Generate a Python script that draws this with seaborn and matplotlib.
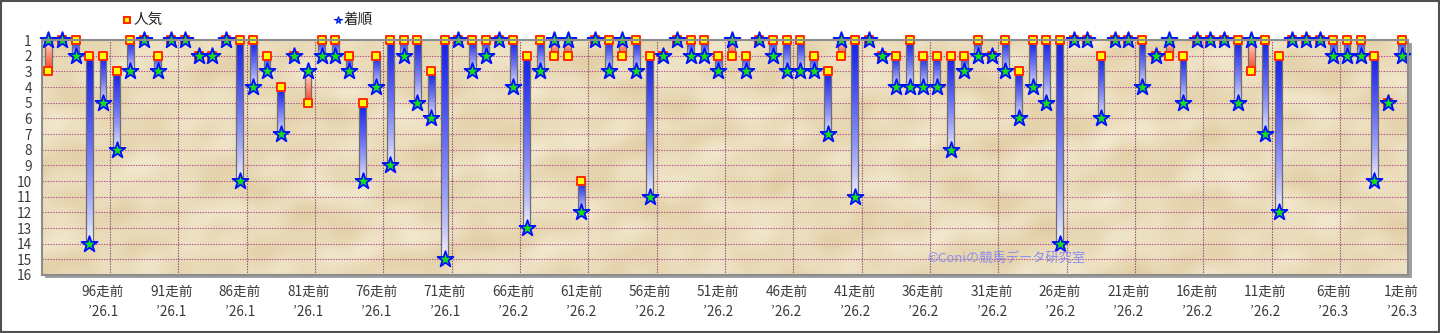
import numpy as np
import pandas as pd
import matplotlib
matplotlib.use("Agg")
import matplotlib.pyplot as plt
import seaborn as sns
from matplotlib.patches import Rectangle
from matplotlib.lines import Line2D

# ---------------- data (oldest race first: 100走前 ... 1走前) ----------------
races_ago = list(range(100, 0, -1))
ninki = [3, 1, 1, 2, 2, 3, 1, 1, 2, 1, 1, 2, 2, 1, 1,
         1, 2, 4, 2, 5, 1, 1, 2, 5, 2, 1, 1, 1, 3, 1, 1, 1, 1,
         1, 1, 2, 1, 2, 2, 10, 1, 1, 2, 1, 2, 2, 1, 1, 1, 2,
         2, 2, 1, 1, 1, 1, 2, 3, 2, 1, 1, 2, 2, 1, 2, 2, 2, 2,
         1, 2, 1, 3, 1, 1, 1, 1, 1, 2, 1, 1, 1, 2, 2, 2, 1, 1,
         1, 1, 3, 1, 2, 1, 1, 1, 1, 1, 1, 2, 5, 1]
chakujun = [1, 1, 2, 14, 5, 8, 3, 1, 3, 1, 1, 2, 2, 1, 10,
            4, 3, 7, 2, 3, 2, 2, 3, 10, 4, 9, 2, 5, 6, 15, 1, 3, 2,
            1, 4, 13, 3, 1, 1, 12, 1, 3, 1, 3, 11, 2, 1, 2, 2, 3,
            1, 3, 1, 2, 3, 3, 3, 7, 1, 11, 1, 2, 4, 4, 4, 4, 8, 3,
            2, 2, 3, 6, 4, 5, 14, 1, 1, 6, 1, 1, 4, 2, 1, 5, 1, 1,
            1, 5, 1, 7, 12, 1, 1, 1, 2, 2, 2, 10, 5, 2]
tick_races = [96, 91, 86, 81, 76, 71, 66, 61, 56, 51, 46, 41, 36, 31, 26, 21, 16, 11, 6, 1]
tick_dates = ["26.1"] * 6 + ["26.2"] * 12 + ["26.3"] * 2
y_ticks = list(range(1, 17))

df = pd.DataFrame({"pos": np.arange(len(races_ago)), "race": races_ago,
                   "ninki": ninki, "chaku": chakujun})

# ---------------- style ----------------
sns.set_theme(style="white")
plt.rcParams["font.family"] = ["Noto Sans CJK JP", "DejaVu Sans"]

W, H = 1440, 333
fig = plt.figure(figsize=(W / 100, H / 100), dpi=100)
fig.patch.set_facecolor("white")
L, R, T, B = 41.5, 1408.5, 40, 275
ax = fig.add_axes([L / W, 1 - B / H, (R - L) / W, (B - T) / H])
ax.set_zorder(2)

# shadow behind the plot area (separate background axes)
shadow_ax = fig.add_axes([(L + 3) / W, 1 - (B + 3) / H, (R - L) / W, (B - T) / H])
shadow_ax.set_zorder(1)
shadow_ax.set_facecolor("#a0a0a0")
shadow_ax.set_xticks([])
shadow_ax.set_yticks([])
for s in shadow_ax.spines.values():
    s.set_visible(False)

# outer frame
fig.patches.append(Rectangle((0.0008, 0.002), 0.9984, 0.995, transform=fig.transFigure,
                             fill=False, edgecolor="#505050", linewidth=1.5, zorder=10))

# parchment-like background (deterministic smooth pattern)
hh, ww = 235, 1367
yy, xx = np.mgrid[0:hh, 0:ww].astype(float)
pat = (0.45 * np.sin(xx / 29.0 + 1.8 * np.sin(yy / 17.0))
       + 0.35 * np.sin(yy / 9.0 + xx / 43.0 + 1.2 * np.sin(xx / 13.0))
       + 0.30 * np.sin((xx + yy) / 11.0) * np.sin((xx - 2 * yy) / 19.0))
pat = (pat - pat.min()) / (pat.max() - pat.min())
light = np.array([242, 232, 206]) / 255.0
dark = np.array([226, 207, 166]) / 255.0
tex = light[None, None, :] * (1 - pat[..., None]) + dark[None, None, :] * pat[..., None]
ax.imshow(tex, extent=(-0.5, 99.5, 16, 1), aspect="auto", zorder=0, interpolation="bilinear")

# grid lines
for yv in range(2, 16):
    ax.axhline(yv, color="#b0508a", lw=0.8, ls=(0, (1.2, 1.2)), zorder=1)
for xv in np.arange(4.5, 99, 5):
    ax.axvline(xv, color="#8a4a70", lw=0.8, ls=(0, (1.2, 1.2)), zorder=1)

# gradient bars from 人気 to 着順
bw = 0.5
n = 80
t = np.linspace(0, 1, n) ** 0.7
blue = np.array([0.08, 0.12, 0.92])
red = np.array([1.0, 0.28, 0.12])
white = np.array([1.0, 1.0, 1.0])
for p, a, c in zip(df["pos"], df["ninki"], df["chaku"]):
    if a == c:
        continue
    col = blue if c > a else red
    arr = (white[None, :] * (1 - t[:, None]) + col[None, :] * t[:, None])[:, None, :]
    ax.imshow(arr, extent=(p - bw / 2, p + bw / 2, c, a), origin="lower",
              aspect="auto", zorder=2, interpolation="bilinear")
    ax.add_patch(Rectangle((p - bw / 2, min(a, c)), bw, abs(c - a), fill=False,
                           edgecolor="#6e6e6e", linewidth=0.9, zorder=2.5))

# markers
sns.scatterplot(data=df, x="pos", y="ninki", marker="s", s=28, color="#ffff00",
                edgecolor="#ff2a00", linewidth=1.4, zorder=4, clip_on=False,
                ax=ax, legend=False)
sns.scatterplot(data=df, x="pos", y="chaku", marker="*", s=145, color="#14e014",
                edgecolor="#0010ff", linewidth=1.3, zorder=5, clip_on=False,
                ax=ax, legend=False)

# axes
ax.set_xlim(-0.5, 99.5)
ax.set_ylim(16, 1)
ax.set_yticks(y_ticks)
ax.set_yticklabels([str(v) for v in y_ticks])
ax.set_xticks([100 - r for r in tick_races])
ax.set_xticklabels([f"{r}走前\n’{d}" for r, d in zip(tick_races, tick_dates)],
                   linespacing=1.55)
ax.tick_params(axis="both", length=0, labelsize=9.8, colors="#3a3a3a")
ax.tick_params(axis="y", pad=7)
ax.tick_params(axis="x", pad=7)
ax.set_xlabel("")
ax.set_ylabel("")
for s in ax.spines.values():
    s.set_color("#8c8c8c")
    s.set_linewidth(1.5)
    s.set_zorder(6)

# legend
fig.add_artist(Line2D([127 / W], [1 - 20 / H], marker="s", markersize=5, linestyle="none",
                      markerfacecolor="#ffff00", markeredgecolor="#ff2a00",
                      markeredgewidth=1.5, transform=fig.transFigure))
fig.text(134 / W, 1 - 20 / H, "人気", fontsize=10.5, color="#222222", va="center")
fig.add_artist(Line2D([337.5 / W], [1 - 20 / H], marker="*", markersize=5.5, linestyle="none",
                      markerfacecolor="#14e014", markeredgecolor="#0010ff",
                      markeredgewidth=0.8, transform=fig.transFigure))
fig.text(344 / W, 1 - 20 / H, "着順", fontsize=10.5, color="#222222", va="center")

# watermark
fig.text(927 / W, 1 - 258 / H, "©Coniの競馬データ研究室", fontsize=9.5,
         color="#8a8af0", va="center", alpha=0.95, zorder=20)

fig.savefig("out.png", dpi=100)
